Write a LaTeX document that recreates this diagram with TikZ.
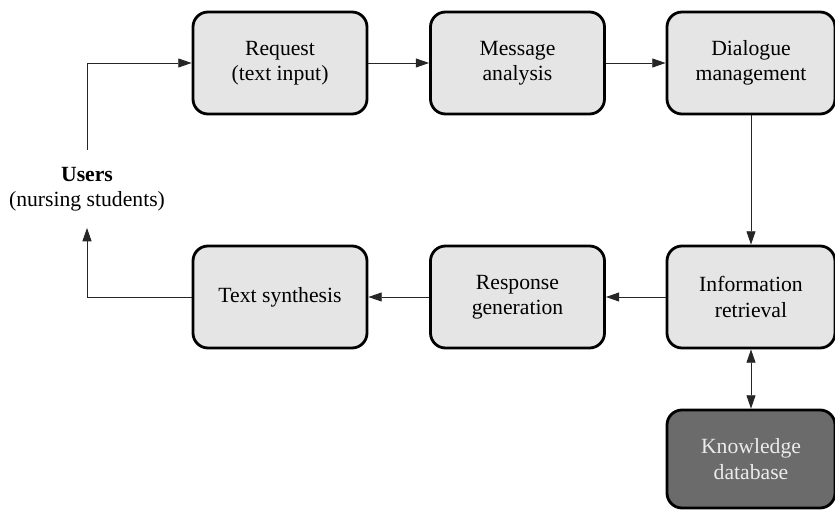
\documentclass[tikz,border=0pt]{standalone}
\usepackage{fontspec}
\setmainfont{Liberation Serif}
\usetikzlibrary{arrows.meta}
\tikzset{
  box/.style={draw=black, line width=2.4pt, fill=black!10, rounded corners=0.45cm,
    minimum width=5.22cm, minimum height=3.06cm, align=center,
    font=\fontsize{18.5}{21.5}\selectfont},
  narrowbox/.style={box, minimum width=5.04cm},
  dbbox/.style={narrowbox, fill=black!58, text=black!8, minimum height=2.94cm},
  arr/.style={draw=black!85, line width=0.8pt, -{Triangle[length=0.4cm,width=0.27cm]}},
  biarr/.style={arr, {Triangle[length=0.4cm,width=0.27cm]}-{Triangle[length=0.4cm,width=0.27cm]}},
}
\begin{document}
\begin{tikzpicture}[x=0.03cm, y=-0.03cm]
  \useasboundingbox (0,0) rectangle (835,510);
  % Top row
  \node[box] (req) at (280,63) {Request\\(text input)};
  \node[box] (msg) at (517.5,63) {Message\\analysis};
  \node[narrowbox] (dia) at (751,63) {Dialogue\\management};
  % Bottom row
  \node[box] (synth) at (280,297) {Text synthesis};
  \node[box] (resp) at (517.5,297) {Response\\generation};
  \node[narrowbox] (info) at (751,297) {Information\\retrieval};
  % Database
  \node[dbbox] (kdb) at (751,459) {Knowledge\\database};
  % Users
  \node[align=center, inner ysep=0.5cm, font=\fontsize{18.5}{21.5}\selectfont] (users) at (87,189)
    {\textbf{Users}\\(nursing students)};
  % Flow
  \draw[arr] (req) -- (msg);
  \draw[arr] (msg) -- (dia);
  \draw[arr] (dia) -- (info);
  \draw[arr] (info) -- (resp);
  \draw[arr] (resp) -- (synth);
  \draw[arr] (synth.west) -| (users.south);
  \draw[arr] (users.north) |- (req.west);
  \draw[biarr] (info) -- (kdb);
\end{tikzpicture}
\end{document}
